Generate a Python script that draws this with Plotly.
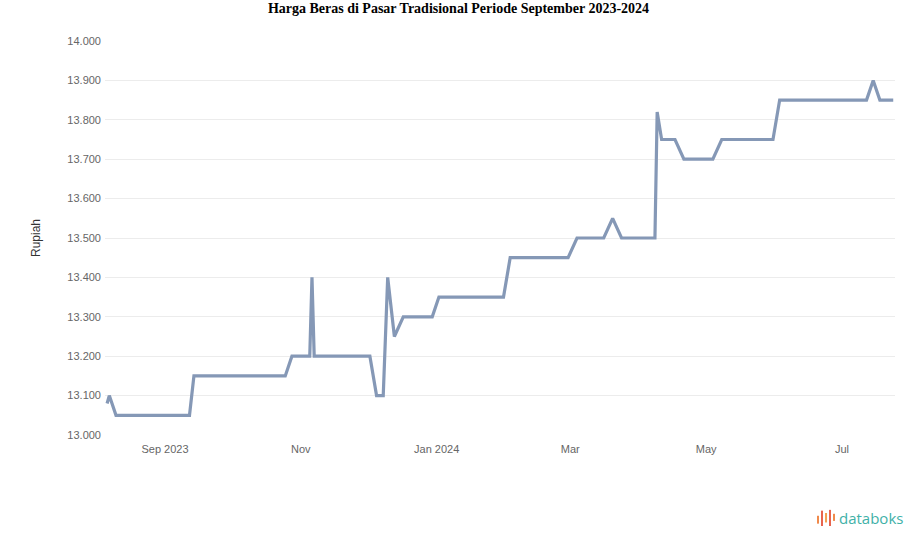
import plotly.graph_objects as go

# Breakpoints of the price series (Rp per kg)
dates = [
    "2023-08-06", "2023-08-07", "2023-08-10",
    "2023-09-12", "2023-09-14",
    "2023-10-25", "2023-10-28",
    "2023-11-05", "2023-11-06", "2023-11-07",
    "2023-12-02", "2023-12-05", "2023-12-08", "2023-12-10", "2023-12-13", "2023-12-17",
    "2023-12-30", "2024-01-02",
    "2024-01-31", "2024-02-03",
    "2024-02-29", "2024-03-04",
    "2024-03-16", "2024-03-20", "2024-03-24",
    "2024-04-08", "2024-04-09", "2024-04-11", "2024-04-17", "2024-04-21",
    "2024-05-04", "2024-05-08",
    "2024-05-31", "2024-06-03",
    "2024-07-12", "2024-07-15", "2024-07-18", "2024-07-24",
]
prices = [
    13080, 13100, 13050,
    13050, 13150,
    13150, 13200,
    13200, 13400, 13200,
    13200, 13100, 13100, 13400, 13250, 13300,
    13300, 13350,
    13350, 13450,
    13450, 13500,
    13500, 13550, 13500,
    13500, 13820, 13750, 13750, 13700,
    13700, 13750,
    13750, 13850,
    13850, 13900, 13850, 13850,
]

x_tickvals = ["2023-09-01", "2023-11-01", "2024-01-01", "2024-03-01", "2024-05-01", "2024-07-01"]
x_ticktext = ["Sep 2023", "Nov", "Jan 2024", "Mar", "May", "Jul"]
y_tickvals = [13000, 13100, 13200, 13300, 13400, 13500, 13600, 13700, 13800, 13900, 14000]
y_ticktext = ["13.000", "13.100", "13.200", "13.300", "13.400", "13.500",
              "13.600", "13.700", "13.800", "13.900", "14.000"]

fig = go.Figure()
fig.add_trace(go.Scatter(
    x=dates, y=prices, mode="lines",
    line=dict(color="#8598b6", width=3.2),
    showlegend=False,
))

fig.update_layout(
    width=917, height=547,
    margin=dict(l=105, r=22, t=41, b=112),
    paper_bgcolor="white", plot_bgcolor="white",
    title=dict(
        text="<b>Harga Beras di Pasar Tradisional Periode September 2023-2024</b>",
        x=0.5, xanchor="center", y=0.985, yanchor="middle",
        font=dict(family="Liberation Serif", size=14, color="#000000"),
    ),
    xaxis=dict(
        type="date",
        range=["2023-08-05 01:30", "2024-07-24 19:00"],
        tickvals=x_tickvals, ticktext=x_ticktext,
        showgrid=False, zeroline=False, showline=False,
        ticks="", ticklabelstandoff=6,
        tickfont=dict(family="Liberation Sans", size=11, color="#666666"),
    ),
    yaxis=dict(
        range=[13000, 14000],
        tickvals=y_tickvals, ticktext=y_ticktext,
        showgrid=True, gridcolor="#ececec", gridwidth=1,
        zeroline=False, showline=False, ticks="", ticklabelstandoff=3,
        tickfont=dict(family="Liberation Sans", size=11, color="#666666"),
        title=dict(text="Rupiah", font=dict(family="Liberation Sans", size=12, color="#333333"),
                   standoff=24),
    ),
)

# databoks logo (decoration)
bars = [(0.9025, -0.205, -0.225, "#f08a4b"), (0.9076, -0.192, -0.231, "#e8644f"),
        (0.9127, -0.198, -0.222, "#f3a14f"), (0.9177, -0.190, -0.231, "#e8644f"),
        (0.9228, -0.200, -0.218, "#f08a4b")]
for x0, y1, y0, c in bars:
    fig.add_shape(type="line", xref="paper", yref="paper",
                  x0=x0, x1=x0, y0=y0, y1=y1,
                  line=dict(color=c, width=2))
fig.add_annotation(
    text="databoks", xref="paper", yref="paper",
    x=0.926, y=-0.211, xanchor="left", yanchor="middle",
    showarrow=False,
    font=dict(family="Open Sans", size=15, color="#3fb1a8"),
)

fig.write_html("out.html", config={"displayModeBar": False},
               post_script="document.body.style.margin='0';")
